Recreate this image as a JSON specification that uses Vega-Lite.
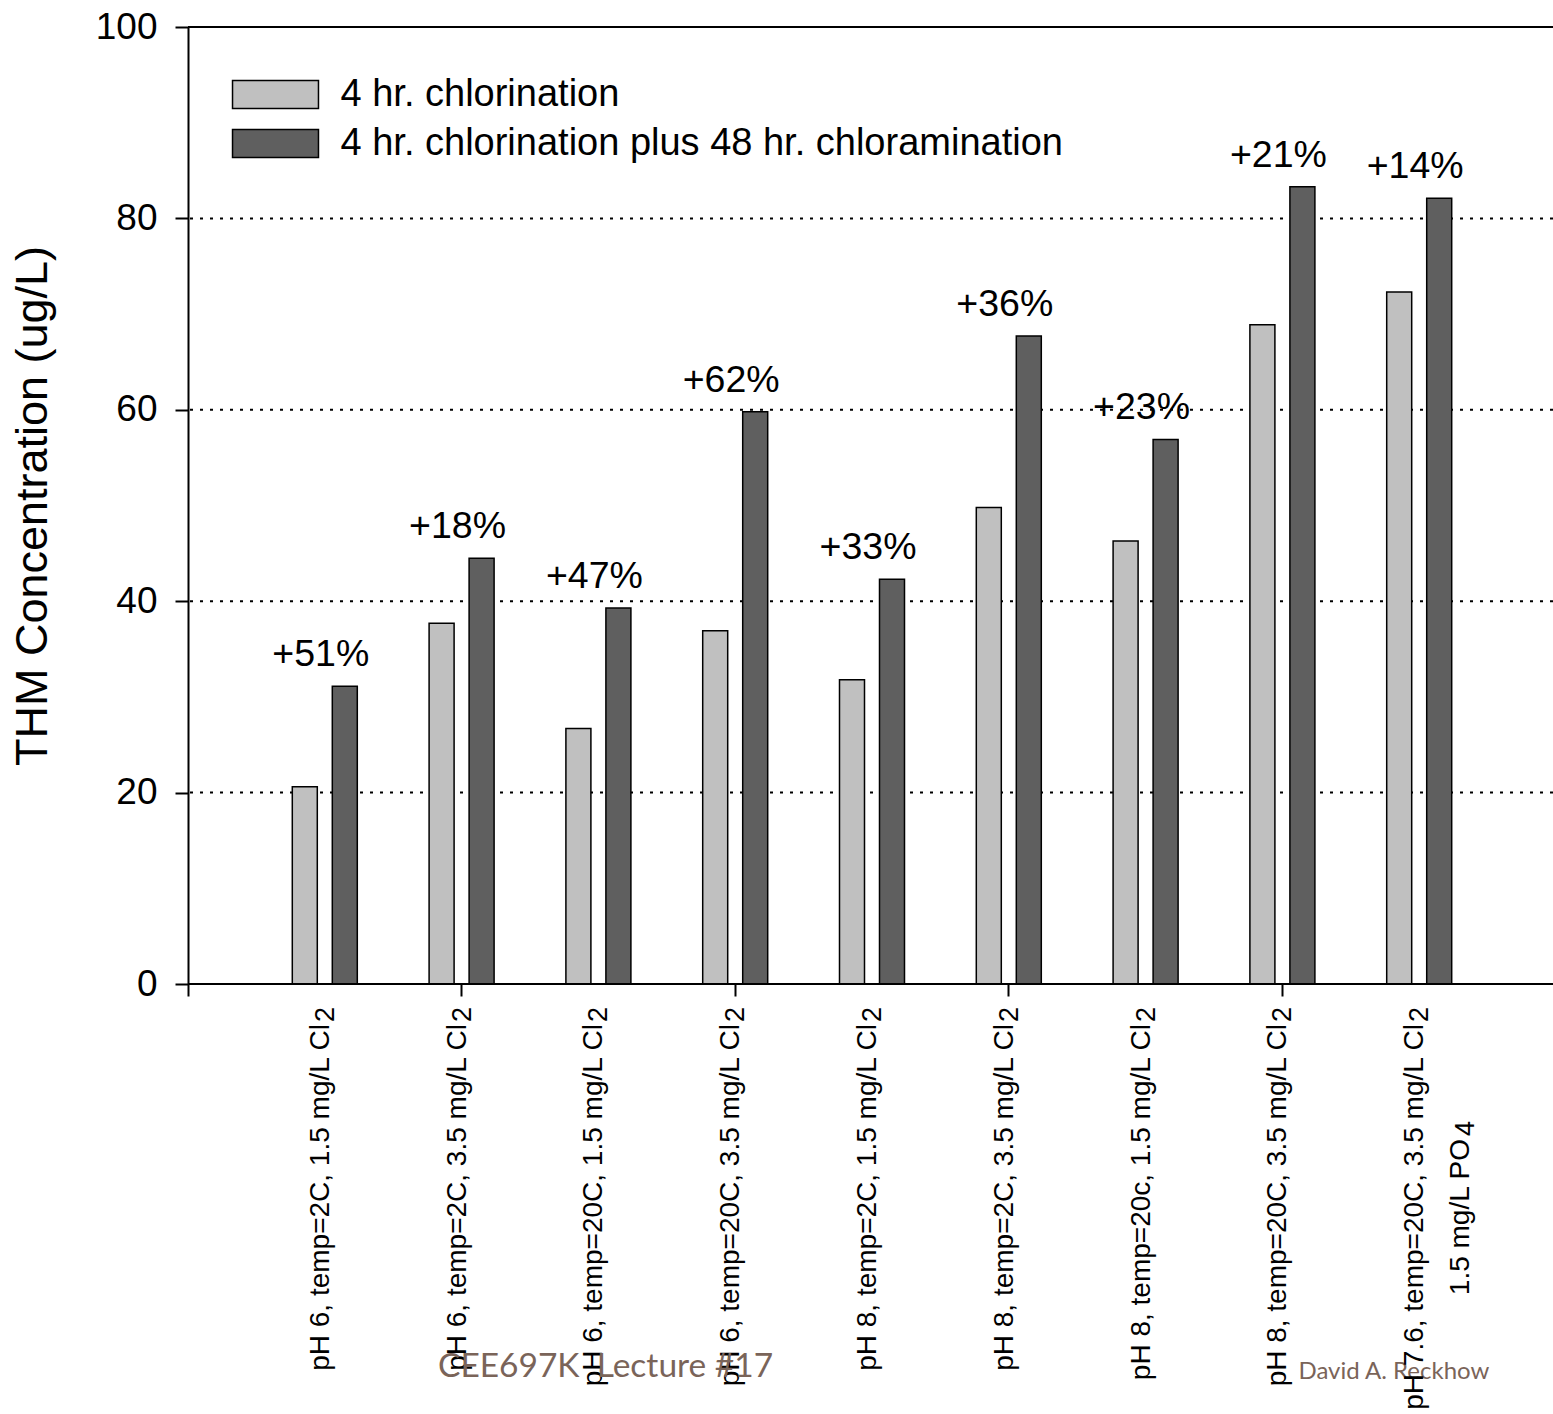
{
  "$schema": "https://vega.github.io/schema/vega-lite/v6.json",
  "width": 1365,
  "height": 957,
  "autosize": {"type": "none"},
  "padding": {"left": 188, "top": 27, "right": 0, "bottom": 430},
  "background": "white",
  "config": {
    "font": "Liberation Sans",
    "view": {"stroke": null},
    "text": {"font": "Liberation Sans", "color": "black"}
  },
  "title": {
    "text": "CEE697K\u00a0\u00a0Lecture #17",
    "orient": "bottom",
    "anchor": "start",
    "frame": "group",
    "dx": 250,
    "offset": -60,
    "font": "Lato",
    "fontSize": 33.5,
    "fontWeight": "normal",
    "color": "#7a6459"
  },
  "datasets": {
    "thm": [
      {"condition": "pH 6, temp=2C, 1.5 mg/L Cl2", "treatment": "4 hr. chlorination", "thm": 20.6},
      {"condition": "pH 6, temp=2C, 1.5 mg/L Cl2", "treatment": "4 hr. chlorination plus 48 hr. chloramination", "thm": 31.1, "increase": 0.51},
      {"condition": "pH 6, temp=2C, 3.5 mg/L Cl2", "treatment": "4 hr. chlorination", "thm": 37.7},
      {"condition": "pH 6, temp=2C, 3.5 mg/L Cl2", "treatment": "4 hr. chlorination plus 48 hr. chloramination", "thm": 44.5, "increase": 0.18},
      {"condition": "pH 6, temp=20C, 1.5 mg/L Cl2", "treatment": "4 hr. chlorination", "thm": 26.7},
      {"condition": "pH 6, temp=20C, 1.5 mg/L Cl2", "treatment": "4 hr. chlorination plus 48 hr. chloramination", "thm": 39.3, "increase": 0.47},
      {"condition": "pH 6, temp=20C, 3.5 mg/L Cl2", "treatment": "4 hr. chlorination", "thm": 36.9},
      {"condition": "pH 6, temp=20C, 3.5 mg/L Cl2", "treatment": "4 hr. chlorination plus 48 hr. chloramination", "thm": 59.8, "increase": 0.62},
      {"condition": "pH 8, temp=2C, 1.5 mg/L Cl2", "treatment": "4 hr. chlorination", "thm": 31.8},
      {"condition": "pH 8, temp=2C, 1.5 mg/L Cl2", "treatment": "4 hr. chlorination plus 48 hr. chloramination", "thm": 42.3, "increase": 0.33},
      {"condition": "pH 8, temp=2C, 3.5 mg/L Cl2", "treatment": "4 hr. chlorination", "thm": 49.8},
      {"condition": "pH 8, temp=2C, 3.5 mg/L Cl2", "treatment": "4 hr. chlorination plus 48 hr. chloramination", "thm": 67.7, "increase": 0.36},
      {"condition": "pH 8, temp=20c, 1.5 mg/L Cl2", "treatment": "4 hr. chlorination", "thm": 46.3},
      {"condition": "pH 8, temp=20c, 1.5 mg/L Cl2", "treatment": "4 hr. chlorination plus 48 hr. chloramination", "thm": 56.9, "increase": 0.23},
      {"condition": "pH 8, temp=20C, 3.5 mg/L Cl2", "treatment": "4 hr. chlorination", "thm": 68.9},
      {"condition": "pH 8, temp=20C, 3.5 mg/L Cl2", "treatment": "4 hr. chlorination plus 48 hr. chloramination", "thm": 83.3, "increase": 0.21},
      {"condition": "pH 7.6, temp=20C, 3.5 mg/L Cl2, 1.5 mg/L PO4", "treatment": "4 hr. chlorination", "thm": 72.3},
      {"condition": "pH 7.6, temp=20C, 3.5 mg/L Cl2, 1.5 mg/L PO4", "treatment": "4 hr. chlorination plus 48 hr. chloramination", "thm": 82.1, "increase": 0.14}
    ],
    "conditions": [
      {"condition": "pH 6, temp=2C, 1.5 mg/L Cl2", "label": "pH 6, temp=2C, 1.5 mg/L Cl", "sub": "2"},
      {"condition": "pH 6, temp=2C, 3.5 mg/L Cl2", "label": "pH 6, temp=2C, 3.5 mg/L Cl", "sub": "2"},
      {"condition": "pH 6, temp=20C, 1.5 mg/L Cl2", "label": "pH 6, temp=20C, 1.5 mg/L Cl", "sub": "2"},
      {"condition": "pH 6, temp=20C, 3.5 mg/L Cl2", "label": "pH 6, temp=20C, 3.5 mg/L Cl", "sub": "2"},
      {"condition": "pH 8, temp=2C, 1.5 mg/L Cl2", "label": "pH 8, temp=2C, 1.5 mg/L Cl", "sub": "2"},
      {"condition": "pH 8, temp=2C, 3.5 mg/L Cl2", "label": "pH 8, temp=2C, 3.5 mg/L Cl", "sub": "2"},
      {"condition": "pH 8, temp=20c, 1.5 mg/L Cl2", "label": "pH 8, temp=20c, 1.5 mg/L Cl", "sub": "2"},
      {"condition": "pH 8, temp=20C, 3.5 mg/L Cl2", "label": "pH 8, temp=20C, 3.5 mg/L Cl", "sub": "2"},
      {"condition": "pH 7.6, temp=20C, 3.5 mg/L Cl2, 1.5 mg/L PO4", "label": "pH 7.6, temp=20C, 3.5 mg/L Cl", "sub": "2", "note": "1.5 mg/L PO", "note_sub": "4"}
    ]
  },
  "layer": [
    {
      "data": {"values": [{}]},
      "mark": {"type": "rule", "stroke": "black", "strokeWidth": 2, "strokeDash": [3, 7]},
      "encoding": {"y": {"datum": 20, "type": "quantitative"}}
    },
    {
      "data": {"values": [{}]},
      "mark": {"type": "rule", "stroke": "black", "strokeWidth": 2, "strokeDash": [3, 7]},
      "encoding": {"y": {"datum": 40, "type": "quantitative"}}
    },
    {
      "data": {"values": [{}]},
      "mark": {"type": "rule", "stroke": "black", "strokeWidth": 2, "strokeDash": [3, 7]},
      "encoding": {"y": {"datum": 60, "type": "quantitative"}}
    },
    {
      "data": {"values": [{}]},
      "mark": {"type": "rule", "stroke": "black", "strokeWidth": 2, "strokeDash": [3, 7]},
      "encoding": {"y": {"datum": 80, "type": "quantitative"}}
    },
    {
      "data": {"name": "thm"},
      "mark": {"type": "bar", "stroke": "black", "strokeWidth": 1.5},
      "encoding": {
        "x": {
          "field": "condition",
          "type": "nominal",
          "scale": {
            "domain": [" ", "pH 6, temp=2C, 1.5 mg/L Cl2", "pH 6, temp=2C, 3.5 mg/L Cl2", "pH 6, temp=20C, 1.5 mg/L Cl2", "pH 6, temp=20C, 3.5 mg/L Cl2", "pH 8, temp=2C, 1.5 mg/L Cl2", "pH 8, temp=2C, 3.5 mg/L Cl2", "pH 8, temp=20c, 1.5 mg/L Cl2", "pH 8, temp=20C, 3.5 mg/L Cl2", "pH 7.6, temp=20C, 3.5 mg/L Cl2, 1.5 mg/L PO4", "  "],
            "range": [-68.4, 1436.4],
            "paddingInner": 0,
            "paddingOuter": 0
          },
          "axis": {
            "values": [" ", "pH 6, temp=2C, 3.5 mg/L Cl2", "pH 6, temp=20C, 3.5 mg/L Cl2", "pH 8, temp=2C, 3.5 mg/L Cl2", "pH 8, temp=20C, 3.5 mg/L Cl2"],
            "labels": false,
            "domain": false,
            "grid": false,
            "ticks": true,
            "tickSize": 12,
            "tickWidth": 2,
            "tickColor": "black",
            "title": "David A. Reckhow",
            "titleX": 1110,
            "titleY": 394,
            "titleAlign": "left",
            "titleBaseline": "alphabetic",
            "titleFont": "Lato",
            "titleFontSize": 24,
            "titleFontWeight": "normal",
            "titleColor": "#7a6459"
          }
        },
        "xOffset": {
          "field": "treatment",
          "type": "nominal",
          "scale": {
            "domain": ["4 hr. chlorination", "4 hr. chlorination plus 48 hr. chloramination"],
            "paddingInner": 0.375,
            "paddingOuter": 0.8975
          }
        },
        "y": {
          "field": "thm",
          "type": "quantitative",
          "scale": {"domain": [0, 100], "nice": false},
          "axis": {
            "values": [0, 20, 40, 60, 80, 100],
            "grid": false,
            "domainColor": "black",
            "domainWidth": 2,
            "tickColor": "black",
            "tickWidth": 2,
            "tickSize": 13,
            "labelFont": "Liberation Sans",
            "labelFontSize": 37,
            "labelColor": "black",
            "labelPadding": 18,
            "labelFlush": false,
            "labelOverlap": false,
            "title": "THM Concentration (ug/L)",
            "titleFont": "Liberation Sans",
            "titleFontSize": 45,
            "titleFontWeight": "normal",
            "titleColor": "black",
            "titlePadding": 40
          }
        },
        "fill": {
          "field": "treatment",
          "type": "nominal",
          "scale": {
            "domain": ["4 hr. chlorination", "4 hr. chlorination plus 48 hr. chloramination"],
            "range": ["#c0c0c0", "#5f5f5f"]
          },
          "legend": {
            "orient": "none",
            "legendX": 68.5,
            "legendY": 48.5,
            "title": null,
            "padding": 0,
            "direction": "vertical",
            "symbolType": "M-3.07,-1H3.07V1H-3.07Z",
            "symbolSize": 784,
            "symbolStrokeColor": "black",
            "symbolStrokeWidth": 1.5,
            "symbolOpacity": 1,
            "labelFont": "Liberation Sans",
            "labelFontSize": 38,
            "labelColor": "black",
            "labelOffset": 46,
            "labelLimit": 1200,
            "rowPadding": 11
          }
        }
      }
    },
    {
      "data": {"values": [{}]},
      "mark": {"type": "rule", "stroke": "black", "strokeWidth": 2},
      "encoding": {"y": {"datum": 0, "type": "quantitative"}}
    },
    {
      "data": {"values": [{}]},
      "mark": {"type": "rule", "stroke": "black", "strokeWidth": 2},
      "encoding": {"y": {"datum": 100, "type": "quantitative"}}
    },
    {
      "data": {"name": "thm"},
      "transform": [{"filter": "isValid(datum.increase)"}],
      "mark": {"type": "text", "fontSize": 37.5, "align": "center", "baseline": "alphabetic", "dx": -4, "dy": -20},
      "encoding": {
        "x": {"field": "condition", "type": "nominal"},
        "y": {"field": "thm", "type": "quantitative"},
        "text": {"field": "increase", "type": "quantitative", "format": "+.0%"}
      }
    },
    {
      "data": {"name": "conditions"},
      "mark": {"type": "text", "angle": 270, "align": "right", "baseline": "alphabetic", "fontSize": 28, "dx": -40, "dy": 4},
      "encoding": {
        "x": {"field": "condition", "type": "nominal"},
        "y": {"datum": 0, "type": "quantitative"},
        "text": {"field": "label", "type": "nominal"}
      }
    },
    {
      "data": {"name": "conditions"},
      "mark": {"type": "text", "angle": 270, "align": "right", "baseline": "alphabetic", "fontSize": 27, "dx": -23, "dy": 9},
      "encoding": {
        "x": {"field": "condition", "type": "nominal"},
        "y": {"datum": 0, "type": "quantitative"},
        "text": {"field": "sub", "type": "nominal"}
      }
    },
    {
      "data": {"name": "conditions"},
      "transform": [{"filter": "isValid(datum.note)"}],
      "mark": {"type": "text", "angle": 270, "align": "right", "baseline": "alphabetic", "fontSize": 28, "dx": -155, "dy": 50},
      "encoding": {
        "x": {"field": "condition", "type": "nominal"},
        "y": {"datum": 0, "type": "quantitative"},
        "text": {"field": "note", "type": "nominal"}
      }
    },
    {
      "data": {"name": "conditions"},
      "transform": [{"filter": "isValid(datum.note_sub)"}],
      "mark": {"type": "text", "angle": 270, "align": "right", "baseline": "alphabetic", "fontSize": 27, "dx": -137, "dy": 55},
      "encoding": {
        "x": {"field": "condition", "type": "nominal"},
        "y": {"datum": 0, "type": "quantitative"},
        "text": {"field": "note_sub", "type": "nominal"}
      }
    }
  ]
}
